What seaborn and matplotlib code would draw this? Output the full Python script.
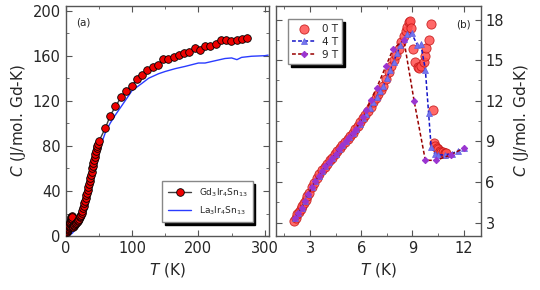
import numpy as np
import pandas as pd
import seaborn as sns
import matplotlib.pyplot as plt
from matplotlib.ticker import MultipleLocator

# ---- panel (a): Gd3Ir4Sn13 and La3Ir4Sn13, full range ----
gd_T = [2, 2.5, 3, 3.5, 4, 4.5, 5, 5.5, 6, 6.5, 7, 7.5, 8, 8.5, 9, 9.5, 10, 10.5, 11, 12,
        13, 14, 15, 16, 17, 18, 19, 20, 21, 22, 23, 24, 25, 26, 27, 28, 29, 30, 31, 32, 33,
        34, 35, 36, 37, 38, 39, 40, 41, 42, 43, 44, 45, 46, 47, 48, 49, 50.6,
        60, 67, 75, 83.5, 91, 99.5, 107.5, 115.5, 123, 131, 138.5, 146.5, 154.5, 162.5,
        170.5, 178.5, 186.5, 194.5, 202, 210, 218, 226, 233.5, 241.5, 249.5, 257.5, 265, 273]
gd_C = [3.2, 4.1, 5.6, 6.5, 7.3, 8.1, 8.8, 9.5, 10.4, 11.3, 12.4, 13.6, 15.0, 16.6, 17.5, 15.0, 16.5, 9.0, 8.3, 8.5,
        9.8, 10.5, 11.2, 12.0, 12.7, 13.5, 14.5, 15.5, 16.5, 17.5, 19.0, 20.5, 22.5, 24.5, 26.7, 29.0, 31.5, 34.0, 36.2, 38.5, 41.0,
        43.5, 46.2, 49.0, 51.8, 54.5, 57.2, 60.0, 62.5, 65.0, 67.5, 70.0, 72.8, 75.5, 77.8, 80.0, 81.8, 84.6,
        96.0, 106.5, 115.0, 123.0, 129.0, 133.5, 139.0, 143.0, 147.0, 150.0, 151.6, 157.0, 157.0, 159.0,
        160.5, 162.0, 163.5, 166.5, 165.0, 169.0, 169.0, 170.0, 174.0, 174.0, 173.3, 174.0, 174.5, 176.0]

la_T = [0, 5, 10, 15, 20, 25, 29, 33, 37.6, 42, 46, 52.7, 60, 67, 75, 85, 100, 115, 125, 140,
        150, 165, 180, 200, 210, 225, 240, 250, 258, 265, 280, 300, 305]
la_C = [0, 0.5, 2.5, 6, 10, 15, 20, 28, 40, 51, 62, 80, 92, 100, 107.5, 116, 129, 135.5, 140, 144,
        146, 148.5, 150.5, 153.5, 153.5, 155.5, 157.5, 158, 156.5, 158.5, 159.5, 160, 160.5]

# ---- panel (b): low temperature, three fields ----
t_0T = [2.05, 2.15, 2.25, 2.35, 2.45, 2.55, 2.65, 2.75, 2.85, 2.95, 3.1, 3.25, 3.4, 3.55, 3.7, 3.85,
        4.0, 4.15, 4.3, 4.45, 4.6, 4.75, 4.9, 5.05, 5.2, 5.35, 5.5, 5.65, 5.8, 5.95, 6.1, 6.25, 6.4,
        6.55, 6.7, 6.85, 7.0, 7.15, 7.3, 7.45, 7.6, 7.75, 7.9, 8.05, 8.2, 8.35, 8.5, 8.6, 8.7, 8.8, 8.87,
        8.94, 9.04, 9.18, 9.31, 9.4, 9.5, 9.67, 9.76, 9.82, 9.95, 10.07, 10.2, 10.29, 10.35, 10.42,
        10.5, 10.6, 10.7, 10.8, 10.9, 11.0]
c_0T = [3.15, 3.35, 3.6, 3.8, 4.0, 4.2, 4.45, 4.7, 4.95, 5.2, 5.6, 5.95, 6.3, 6.6, 6.85, 7.1,
        7.35, 7.6, 7.8, 8.05, 8.3, 8.5, 8.75, 8.95, 9.2, 9.4, 9.65, 9.9, 10.15, 10.4, 10.7, 10.95, 11.25,
        11.55, 11.9, 12.2, 12.5, 12.8, 13.1, 13.6, 14.1, 14.6, 15.0, 15.35, 15.85, 16.35, 16.8, 17.15, 17.45, 17.8, 17.9,
        17.4, 15.8, 14.85, 14.5, 14.45, 14.6, 14.9, 15.3, 15.9, 16.5, 17.7, 11.3, 8.87, 8.65, 8.5,
        8.4, 8.3, 8.25, 8.2, 8.15, 8.15]

t_4T = [2.1, 2.3, 2.5, 2.7, 2.9, 3.1, 3.3, 3.5, 3.7, 3.9, 4.1, 4.3, 4.5, 4.7, 4.9, 5.1, 5.3, 5.5,
        5.7, 5.9, 6.1, 6.3, 6.5, 6.7, 6.9, 7.1, 7.3, 7.5, 7.7, 7.9, 8.1, 8.3, 8.5, 8.7, 8.95,
        9.3, 9.49, 9.76, 9.95, 10.1, 10.3, 10.5, 10.9, 11.3, 11.7, 12.02]
c_4T = [3.3, 3.7, 4.1, 4.6, 5.1, 5.6, 6.05, 6.45, 6.8, 7.15, 7.5, 7.8, 8.1, 8.4, 8.7, 9.0, 9.3, 9.6,
        9.95, 10.3, 10.7, 11.05, 11.45, 11.9, 12.3, 12.7, 13.1, 13.7, 14.3, 14.9, 15.5, 16.1, 16.6, 16.9, 17.0,
        16.1, 16.2, 14.3, 11.1, 8.6, 8.1, 8.0, 8.0, 8.1, 8.3, 8.5]

t_9T = [2.1, 2.3, 2.5, 2.7, 2.9, 3.1, 3.3, 3.5, 3.7, 3.9, 4.1, 4.3, 4.5, 4.7, 4.9, 5.1, 5.3, 5.5,
        5.7, 5.9, 6.1, 6.3, 6.55, 6.9, 7.44, 7.87, 8.5, 9.1, 9.76, 10.4, 11.24, 12.02]
c_9T = [3.3, 3.7, 4.1, 4.6, 5.1, 5.6, 6.05, 6.45, 6.8, 7.15, 7.5, 7.8, 8.1, 8.4, 8.7, 9.0, 9.3, 9.6,
        9.95, 10.35, 10.8, 11.3, 12.03, 12.94, 14.54, 15.83, 16.5, 12.0, 7.6, 7.6, 8.0, 8.5]

sns.set_style('ticks')
plt.rcParams['font.family'] = ['DejaVu Sans']
plt.rcParams['mathtext.fontset'] = 'dejavusans'

fig = plt.figure(figsize=(5.4, 2.9), dpi=100)
ax1 = fig.add_axes([0.1215, 0.186, 0.3775, 0.793])
ax2 = fig.add_axes([0.511, 0.186, 0.379, 0.793])

frame = '#555555'

# panel (a)
sns.lineplot(x=la_T, y=la_C, ax=ax1, color='#2a3cff', lw=1.0, sort=False,
             estimator=None, label=r'La$_3$Ir$_4$Sn$_{13}$', zorder=2)
sns.lineplot(x=gd_T, y=gd_C, ax=ax1, color='#404040', lw=1.0, sort=False, estimator=None,
             marker='o', ms=5.5, mfc='#ee0000', mec='black', mew=0.6,
             label=r'Gd$_3$Ir$_4$Sn$_{13}$', zorder=3)
ax1.set_xlim(0, 307)
ax1.set_ylim(0, 204)
ax1.xaxis.set_major_locator(MultipleLocator(100))
ax1.xaxis.set_minor_locator(MultipleLocator(50))
ax1.yaxis.set_major_locator(MultipleLocator(40))
ax1.yaxis.set_minor_locator(MultipleLocator(20))
ax1.set_xlabel(r'$T$ (K)', fontsize=11)
ax1.set_ylabel(r'$C$ (J/mol. Gd-K)', fontsize=11, labelpad=3)
ax1.tick_params(which='both', direction='in', top=True, right=True, labelsize=10.5,
                color=frame)
ax1.tick_params(which='major', length=4)
ax1.tick_params(which='minor', length=2)
ax1.text(0.05, 0.95, '(a)', transform=ax1.transAxes, fontsize=7.5, va='top', ha='left')
h, l = ax1.get_legend_handles_labels()
ax1.legend(h[::-1], l[::-1], loc='lower right', bbox_to_anchor=(0.94, 0.04), fontsize=6.5,
           fancybox=False, framealpha=1, edgecolor='#888888',
           shadow={'color': 'black', 'alpha': 1}, handlelength=2.6, borderpad=0.6,
           labelspacing=0.6)

# panel (b)
sns.scatterplot(x=t_0T, y=c_0T, ax=ax2, s=44, color='#ff4f4f', edgecolor='#c01010',
                linewidth=0.6, alpha=0.85, label='0 T', zorder=3)
sns.lineplot(x=t_4T, y=c_4T, ax=ax2, color='#1515c8', lw=1.1, linestyle=(0, (2.5, 1.5)),
             sort=False, estimator=None, marker='^', ms=4.5, mfc='#7474ee', mec='#6060e0',
             mew=0.5, label='4 T', zorder=4)
sns.lineplot(x=t_9T, y=c_9T, ax=ax2, color='#990000', lw=1.1, linestyle=(0, (2.5, 1.5)),
             sort=False, estimator=None, marker='D', ms=3.2, mfc='#9a35d0', mec='#9a35d0',
             label='9 T', zorder=5)
ax2.set_xlim(1.0, 13.0)
ax2.set_ylim(2.0, 19.0)
ax2.xaxis.set_major_locator(MultipleLocator(3))
ax2.xaxis.set_minor_locator(MultipleLocator(1.5))
ax2.yaxis.set_major_locator(MultipleLocator(3))
ax2.yaxis.set_minor_locator(MultipleLocator(1.5))
ax2.yaxis.tick_right()
ax2.yaxis.set_label_position('right')
ax2.set_xlabel(r'$T$ (K)', fontsize=11)
ax2.set_ylabel(r'$C$ (J/mol. Gd-K)', fontsize=11, labelpad=6)
ax2.tick_params(which='both', direction='in', top=True, left=True, right=True,
                labelsize=10.5, color=frame)
ax2.tick_params(which='major', length=4)
ax2.tick_params(which='minor', length=2)
ax2.text(0.95, 0.94, '(b)', transform=ax2.transAxes, fontsize=7.5, va='top', ha='right')
ax2.legend(loc='upper left', bbox_to_anchor=(0.035, 0.965), fontsize=7.5, fancybox=False,
           framealpha=1, edgecolor='#888888', shadow={'color': 'black', 'alpha': 1},
           handlelength=2.2, borderpad=0.4, labelspacing=0.3, handletextpad=0.6)

for ax in (ax1, ax2):
    for s in ax.spines.values():
        s.set_color(frame)
        s.set_linewidth(1.0)

fig.savefig('out.png', dpi=100)
